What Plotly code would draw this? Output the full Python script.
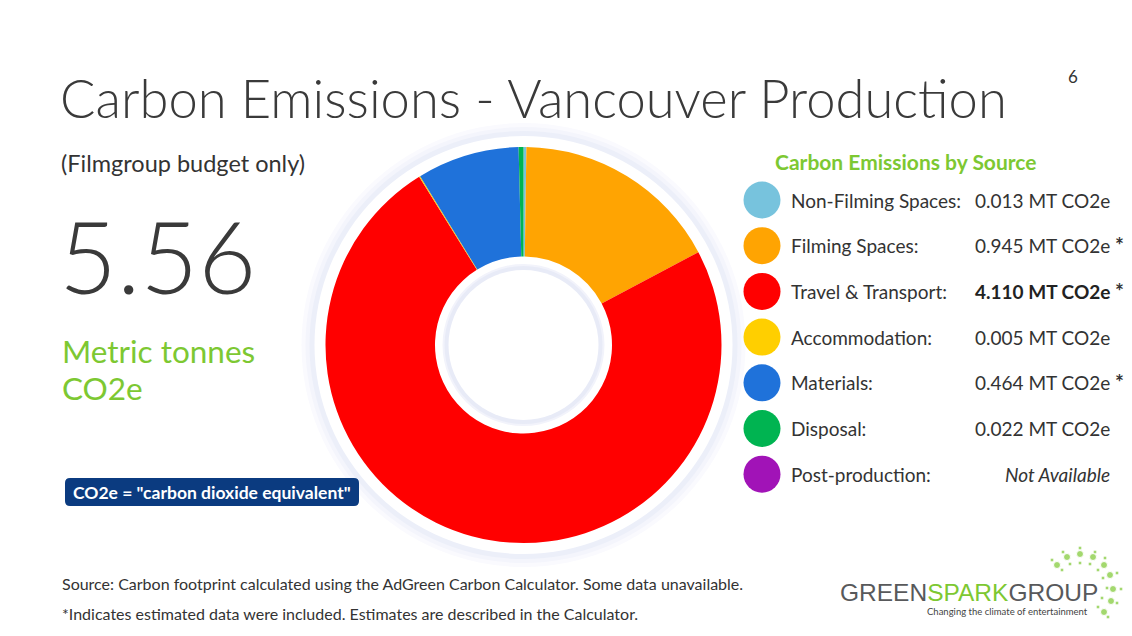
import plotly.graph_objects as go

# ---------------- data ----------------
categories = ["Non-Filming Spaces", "Filming Spaces", "Travel & Transport",
              "Accommodation", "Materials", "Disposal", "Post-production"]
emissions_mt = [0.013, 0.945, 4.110, 0.005, 0.464, 0.022, None]
estimated = [False, True, True, False, True, False, False]
highlight = [False, False, True, False, False, False, False]
colors = ["#77C3DD", "#FFA402", "#FF0000", "#FFCF00", "#1F72DA", "#00B451", "#A113B7"]
total_mt = 5.56
unit = "MT CO2e"

# page is 1132x636 but the html body has an 8px margin: size the figure to fit
PAGE_W, PAGE_H, OFF = 1132, 636, 8
W, H = PAGE_W - 2 * OFF, PAGE_H - 2 * OFF
CX, CY, R = 523.5, 345, 198

fig = go.Figure()

pie_labels = [c for c, v in zip(categories, emissions_mt) if v is not None]
pie_values = [v for v in emissions_mt if v is not None]
pie_colors = [col for col, v in zip(colors, emissions_mt) if v is not None]
fig.add_trace(go.Pie(
    labels=pie_labels, values=pie_values, hole=0.447, sort=False,
    direction="clockwise", rotation=0, textinfo="none",
    marker=dict(colors=pie_colors, line=dict(width=0)),
    domain=dict(x=[(CX - R - OFF) / W, (CX + R - OFF) / W],
                y=[1 - (CY + R - OFF) / H, 1 - (CY - R - OFF) / H]),
    showlegend=False, hoverinfo="label+value",
))

row_y0, row_step = 200, 45.7
rows_y = [row_y0 + i * row_step for i in range(len(categories))]
fig.add_trace(go.Scatter(
    x=[762] * len(categories), y=rows_y, mode="markers",
    marker=dict(size=37, color=colors, line=dict(width=0)),
    showlegend=False, hoverinfo="skip",
))

# logo dots (decoration)
small_dots = [(1063, 552), (1080, 548), (1095, 552), (1052, 560), (1062, 570), (1070, 564),
              (1080, 563), (1090, 564), (1098, 570), (1105, 558), (1117, 573), (1103, 578),
              (1107, 588), (1121, 589), (1102, 598), (1117, 603), (1098, 607), (1108, 617)]
big_dots = [(1057, 565), (1067, 557), (1080, 554), (1093, 557), (1104, 565), (1110, 575),
            (1113, 589), (1111, 601), (1104, 612)]
fig.add_trace(go.Scatter(
    x=[d[0] for d in small_dots + big_dots], y=[d[1] for d in small_dots + big_dots],
    mode="markers",
    marker=dict(size=[4] * len(small_dots) + [7] * len(big_dots), color="#7DC832"),
    showlegend=False, hoverinfo="skip",
))

shapes = []
def circ(r, color, layer="below"):
    shapes.append(dict(type="circle", xref="x", yref="y", x0=CX - r, x1=CX + r,
                       y0=CY - r, y1=CY + r, fillcolor=color, line=dict(width=0), layer=layer))

circ(222, "#fafafe")
circ(218, "#f4f5fc")
circ(214, "#eceff9")
circ(209, "#ffffff")
circ(81, "#f2f3fb")
circ(79, "#e8ebf7")
circ(75, "#ffffff")

bx0, bx1, by0, by1, rr = 65, 359, 478, 506, 5
path = (f"M{bx0+rr},{by0} L{bx1-rr},{by0} Q{bx1},{by0} {bx1},{by0+rr} "
        f"L{bx1},{by1-rr} Q{bx1},{by1} {bx1-rr},{by1} L{bx0+rr},{by1} "
        f"Q{bx0},{by1} {bx0},{by1-rr} L{bx0},{by0+rr} Q{bx0},{by0} {bx0+rr},{by0} Z")
shapes.append(dict(type="path", xref="x", yref="y", path=path,
                   fillcolor="#0B3B80", line=dict(width=0), layer="below"))

ann = []
def txt(x, y, s, size, color="#333333", family="Lato", xanchor="left", weight=None, italic=False):
    f = dict(size=size, color=color, family=family)
    if weight:
        f["weight"] = weight
    if italic:
        f["style"] = "italic"
    ann.append(dict(x=x, y=y, xref="x", yref="y", text=s, showarrow=False,
                    xanchor=xanchor, yanchor="middle", font=f))

txt(58, 97, "Carbon Emissions - Vancouver Production", 52.5, "#3a3a3a", weight=300)
txt(1066, 76, "6", 17, "#333333")
txt(59, 163, "(Filmgroup budget only)", 23.5, "#333333")
txt(57, 255, f"{total_mt:.2f}", 100, "#3a3a3a", weight=300)
txt(60, 351, "Metric tonnes", 31.5, "#7DC832")
txt(60, 388, "CO2e", 31.5, "#7DC832")
txt(212, 492, "CO2e = \"carbon dioxide equivalent\"", 17.5, "#ffffff", xanchor="center", weight="bold")

txt(773, 161, "Carbon Emissions by Source", 21, "#7DC832", weight="bold")
for i, (c, v, est, hl) in enumerate(zip(categories, emissions_mt, estimated, highlight)):
    y = rows_y[i]
    txt(789, y, f"{c}:", 19, "#333333")
    if v is None:
        txt(1112, y, "Not Available", 19, "#333333", xanchor="right", italic=True)
    else:
        txt(973, y, f"{v:.3f} {unit}", 19, "#222222" if hl else "#333333",
            weight="bold" if hl else None)
    if est:
        txt(1113, y - 1, "*", 21, "#333333", weight="bold")

txt(60, 583, "Source: Carbon footprint calculated using the AdGreen Carbon Calculator. Some data unavailable.", 16, "#333333")
txt(60, 613, "*Indicates estimated data were included. Estimates are described in the Calculator.", 16, "#333333")

txt(838, 592, "<span style='color:#58595B'>GREEN</span><span style='color:#7DC832'>SPARK</span>"
    "<span style='color:#58595B'>GROUP</span>", 24.5, "#58595B", "Liberation Sans")
txt(925, 611, "Changing the climate of entertainment", 9.5, "#444444")

fig.update_layout(
    width=W, height=H, margin=dict(l=0, r=0, t=0, b=0),
    paper_bgcolor="white", plot_bgcolor="rgba(0,0,0,0)",
    xaxis=dict(range=[OFF, OFF + W], visible=False, domain=[0, 1], fixedrange=True),
    yaxis=dict(range=[OFF + H, OFF], visible=False, domain=[0, 1], fixedrange=True),
    shapes=shapes, annotations=ann, showlegend=False,
)

fig.write_html("out.html")
